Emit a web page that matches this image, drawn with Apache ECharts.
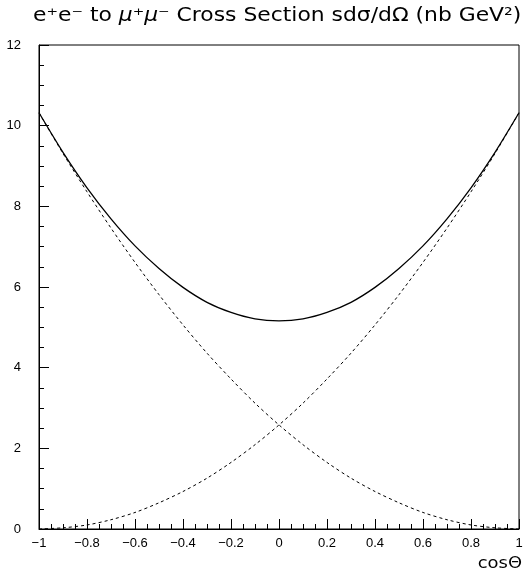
<!DOCTYPE html>
<html>
<head>
<meta charset="utf-8">
<script src="https://cdn.jsdelivr.net/npm/echarts@6/dist/echarts.min.js"></script>
<style>
  html, body { margin: 0; padding: 0; background: #fff; }
  #chart { width: 529px; height: 573px; }
</style>
</head>
<body>
<div id="chart"></div>
<script>
// values (cosθ from -1 to 1, step 0.1)
const cosTheta = [-1, -0.9, -0.8, -0.7, -0.6, -0.5, -0.4, -0.3, -0.2, -0.1, 0,
                  0.1, 0.2, 0.3, 0.4, 0.5, 0.6, 0.7, 0.8, 0.9, 1]
const total = [10.32, 9.34, 8.46, 7.69, 7.02, 6.46, 5.99, 5.62, 5.37, 5.21, 5.16,
               5.21, 5.37, 5.62, 5.99, 6.46, 7.02, 7.69, 8.46, 9.34, 10.32]
const forward = [0, 0.03, 0.10, 0.23, 0.41, 0.65, 0.93, 1.26, 1.65, 2.09, 2.58,
                 3.12, 3.72, 4.36, 5.06, 5.81, 6.61, 7.46, 8.36, 9.31, 10.32]
const backward = [10.32, 9.31, 8.36, 7.46, 6.61, 5.81, 5.06, 4.36, 3.72, 3.12, 2.58,
                  2.09, 1.65, 1.26, 0.93, 0.65, 0.41, 0.23, 0.10, 0.03, 0]

const font = 'Liberation Sans, Arial, sans-serif'
const wide = 'DejaVu Sans, sans-serif'
const pairs = ys => cosTheta.map((c, i) => [c, ys[i]])

const chart = echarts.init(document.getElementById('chart'))
chart.setOption({
  animation: false,
  graphic: [
    {
      // title, stretched a bit to match the wide plot font
      type: 'text', x: 33, y: 7, scaleX: 1.15,
      style: {
        text: 'e⁺e⁻ to {i|μ}⁺{i|μ}⁻ Cross Section sdσ/dΩ (nb GeV²)',
        font: '19px ' + wide, fill: '#000',
        rich: { i: { font: 'italic 19px ' + wide, fill: '#000' } }
      }
    },
    {
      type: 'text', x: 522, y: 556, scaleX: 1.12,
      style: { text: 'cosΘ', font: '16px ' + wide, fill: '#000', align: 'right' }
    }
  ],
  grid: {
    left: 39, right: 10, top: 45, bottom: 44,
    show: true, borderColor: '#000', borderWidth: 1, backgroundColor: 'transparent'
  },
  xAxis: {
    type: 'value', min: -1, max: 1, interval: 0.2,
    axisLine: { onZero: false, lineStyle: { color: '#000', width: 1 } },
    axisTick: { inside: true, length: 10, lineStyle: { color: '#000' } },
    minorTick: { show: true, splitNumber: 4, length: 5, lineStyle: { color: '#000' } },
    splitLine: { show: false },
    axisLabel: {
      color: '#000', fontFamily: font, fontSize: 13, margin: 8,
      formatter: v => {
        const s = Math.abs(v) < 1e-9 ? '0' : String(Math.round(v * 10) / 10)
        return s.replace('-', '−')
      }
    }
  },
  yAxis: {
    type: 'value', min: 0, max: 12, interval: 2,
    axisLine: { show: true, onZero: false, lineStyle: { color: '#000', width: 1 } },
    axisTick: { show: true, inside: true, length: 10, lineStyle: { color: '#000' } },
    minorTick: { show: true, splitNumber: 4, length: 5, lineStyle: { color: '#000' } },
    splitLine: { show: false },
    axisLabel: { color: '#000', fontFamily: font, fontSize: 13, margin: 18 }
  },
  series: [
    {
      type: 'line', data: pairs(total), smooth: 0.3, showSymbol: false,
      lineStyle: { color: '#000', width: 1.3 }
    },
    {
      type: 'line', data: pairs(forward), smooth: 0.3, showSymbol: false,
      lineStyle: { color: '#000', width: 1, type: [3, 3] }
    },
    {
      type: 'line', data: pairs(backward), smooth: 0.3, showSymbol: false,
      lineStyle: { color: '#000', width: 1, type: [3, 3] }
    }
  ]
})
</script>
</body>
</html>
